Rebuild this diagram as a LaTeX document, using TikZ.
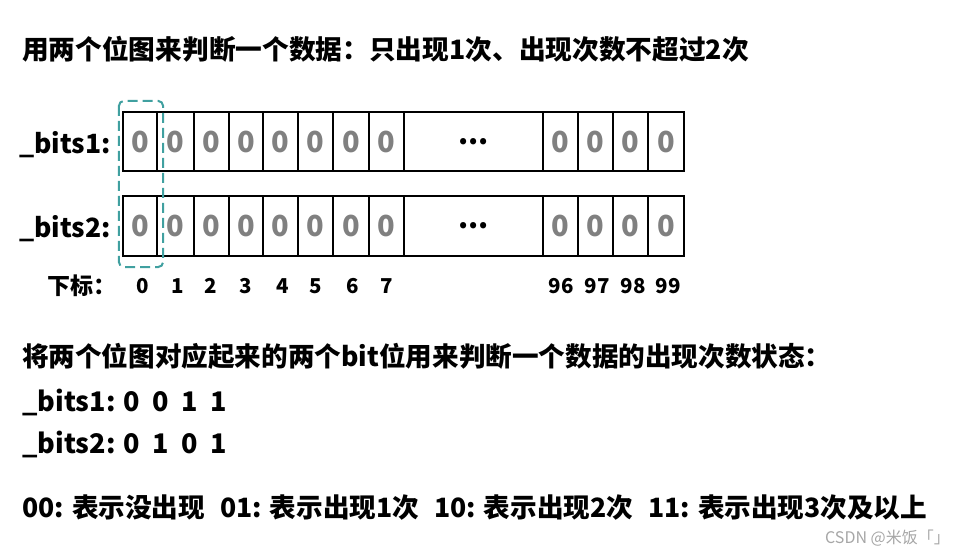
\documentclass[tikz,border=0pt]{standalone}
\usepackage{fontspec}
\setmainfont{Noto Sans CJK SC}
\usetikzlibrary{positioning}
\definecolor{boxteal}{RGB}{64,160,160}
\definecolor{bitgray}{RGB}{128,128,128}
\tikzset{
  cell/.style={draw=black, line width=2.2pt, inner sep=0pt, text=bitgray,
               font=\fontsize{29}{29}\selectfont\bfseries},
  idx/.style={inner sep=0pt, font=\fontsize{20.5}{20.5}\selectfont\bfseries},
  rowlabel/.style={anchor=east, inner sep=0pt, font=\fontsize{26.5}{26.5}\selectfont\bfseries},
  textline/.style={anchor=west, inner sep=0pt, font=\fontsize{26.6}{26.6}\selectfont\bfseries},
}

\begin{document}
\begin{tikzpicture}[x=1pt, y=-1pt]
    \useasboundingbox (0,0) rectangle (964,556);

    \node[textline, font=\fontsize{26.7}{26.7}\selectfont\bfseries] (title) at (22,49)
        {用两个位图来判断一个数据：只出现1次、出现次数不超过2次};

    % the two bitmaps
    \foreach \l/\r/\t [count=\i] in {123/157/0, 157/194/0, 194/229/0, 229/263/0, 263/298/0,
        298/333/0, 333/369/0, 369/404/0, 404/543/{\textcolor{black}{...}},
        543/578/0, 578/613/0, 613/648/0, 648/684/0}{
        \node[cell, minimum width=\r-\l, minimum height=59pt] (a\i) at ({(\l+\r)/2},141.5) {\t};
        \node[cell, minimum width=\r-\l, minimum height=60pt] (b\i) at ({(\l+\r)/2},226) {\t};
    }

    \node[rowlabel] (bits1) at (111,145) {\_bits1:};
    \node[rowlabel] (bits2) at (111,229) {\_bits2:};
    \node[rowlabel, font=\fontsize{23}{23}\selectfont\bfseries] (xiabiao) at (117,286) {下标：};

    % indices
    \foreach \x/\n in {143/0, 178/1, 211/2, 246/3, 283/4, 316/5, 353/6, 387/7,
        561/96, 597/97, 633/98, 668/99}
        \node[idx] (i\n) at (\x,286) {\n};

    % the pair of bits that belong together
    \draw[boxteal, line width=2pt, dash pattern=on 10pt off 5pt, rounded corners=5pt]
        ([xshift=-3pt,yshift=10pt]a1.north west) rectangle ([xshift=5pt,yshift=-10pt]b1.south east);

    \node[textline] (pair) at (22,356) {将两个位图对应起来的两个bit位用来判断一个数据的出现次数状态：};
    \node[textline, font=\fontsize{27}{27}\selectfont\bfseries] (state1) at (22,402) {\_bits1: 0\ \ 0\ \ 1\ \ 1};
    \node[textline, font=\fontsize{27}{27}\selectfont\bfseries] (state2) at (22,444) {\_bits2: 0\ \ 1\ \ 0\ \ 1};
    \node[textline] (meaning) at (22,508)
        {00: 表示没出现\hspace{15pt}01: 表示出现1次\hspace{15pt}10: 表示出现2次\hspace{15pt}11: 表示出现3次及以上};

    \node[anchor=east, inner sep=0pt, text=black!35, font=\fontsize{16}{16}\selectfont] (mark) at (950,538) {CSDN @米饭「」};
\end{tikzpicture}
\end{document}
